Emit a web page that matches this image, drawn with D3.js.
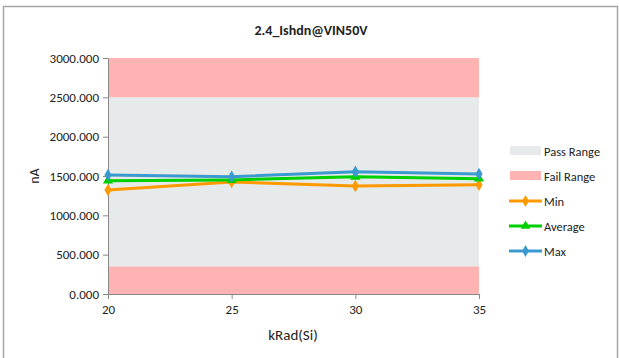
<!DOCTYPE html>
<html><head><meta charset="utf-8">
<script src="https://cdn.jsdelivr.net/npm/d3@7"></script>
<style>body{margin:0;background:#fff}svg{display:block}text{font-family:Calibri,Carlito,"Open Sans","Liberation Sans",sans-serif}</style>
</head><body><svg id="c" width="619" height="358"></svg>
<script>
const categories = [20, 25, 30, 35];
const minVals = [1322, 1424, 1373, 1390];
const avgVals = [1441, 1450, 1491, 1466];
const maxVals = [1513, 1491, 1555, 1525];
const passRange = [350, 2500];
const failRangeLow = [0, 350];
const failRangeHigh = [2500, 3000];
const yTicks = [0, 500, 1000, 1500, 2000, 2500, 3000];
const title = "2.4_Ishdn@VIN50V";

const svg = d3.select("#c");
svg.append("rect").attr("x",3.5).attr("y",6.5).attr("width",614).attr("height",360).attr("fill","#fff").attr("stroke","#a6a6a6").attr("stroke-width",1.5);

const x = d3.scaleLinear().domain([20,35]).range([108,479]);
const y = d3.scaleLinear().domain([0,3000]).range([294,58]);

svg.append("text").attr("x",311).attr("y",35).attr("text-anchor","middle").attr("font-size",14).attr("font-weight","bold").attr("fill","#222").text(title);

svg.append("rect").attr("x",x(20)).attr("width",x(35)-x(20)).attr("y",y(passRange[1])).attr("height",y(passRange[0])-y(passRange[1])).attr("fill","#e6eaea");
[failRangeLow, failRangeHigh].forEach(r=>{
  svg.append("rect").attr("x",x(20)).attr("width",x(35)-x(20)).attr("y",y(r[1])).attr("height",y(r[0])-y(r[1])).attr("fill","#ffb3b3");
});

const ya = svg.append("g").attr("transform",`translate(${x(20)},0)`).call(d3.axisLeft(y).tickValues(yTicks).tickFormat(d3.format(".3f")).tickSize(5).tickSizeOuter(0));
const xa = svg.append("g").attr("transform",`translate(0,${y(0)})`).call(d3.axisBottom(x).tickValues(categories).tickSize(5).tickSizeOuter(0));
[ya,xa].forEach(a=>{a.select(".domain").attr("stroke","#888");a.selectAll("line").attr("stroke","#888");a.selectAll("text").attr("font-size",13).attr("fill","#222").attr("font-family","Calibri,Carlito,'Open Sans',sans-serif");});
ya.selectAll("text").attr("dx",-1);
xa.selectAll("text").attr("dy",12);

svg.append("text").attr("x",293).attr("y",340).attr("text-anchor","middle").attr("font-size",15).attr("fill","#222").text("kRad(Si)");
svg.append("text").attr("transform","translate(39,176) rotate(-90)").attr("text-anchor","middle").attr("font-size",14).attr("fill","#222").text("nA");

const series = [
  {name:"Min", vals:minVals, color:"#ff9900", shape:d3.symbolDiamond},
  {name:"Average", vals:avgVals, color:"#00d000", shape:d3.symbolTriangle},
  {name:"Max", vals:maxVals, color:"#3a9ad0", shape:d3.symbolDiamond}
];
const line = d3.line().x((d,i)=>x(categories[i])).y(d=>y(d));
series.forEach(s=>{
  svg.append("path").attr("d",line(s.vals)).attr("fill","none").attr("stroke",s.color).attr("stroke-width",3);
  svg.selectAll(null).data(s.vals).enter().append("path")
    .attr("transform",(d,i)=>`translate(${x(categories[i])},${y(d)})`)
    .attr("d",d3.symbol().type(s.shape).size(45)).attr("fill",s.color);
});

// legend
const lg = svg.append("g");
const ly = [151,176,201,226,251];
lg.append("rect").attr("x",510).attr("y",ly[0]-5).attr("width",31).attr("height",9).attr("fill","#e6eaea");
lg.append("rect").attr("x",510).attr("y",ly[1]-5).attr("width",31).attr("height",9).attr("fill","#ffb3b3");
series.forEach((s,i)=>{
  const yy = ly[i+2];
  lg.append("line").attr("x1",509).attr("x2",542).attr("y1",yy).attr("y2",yy).attr("stroke",s.color).attr("stroke-width",3);
  lg.append("path").attr("transform",`translate(525.5,${yy})`).attr("d",d3.symbol().type(s.shape).size(40)).attr("fill",s.color);
});
["Pass Range","Fail Range","Min","Average","Max"].forEach((t,i)=>{
  lg.append("text").attr("x",544).attr("y",ly[i]+4.5).attr("font-size",12.5).attr("fill","#222").text(t);
});
</script></body></html>
